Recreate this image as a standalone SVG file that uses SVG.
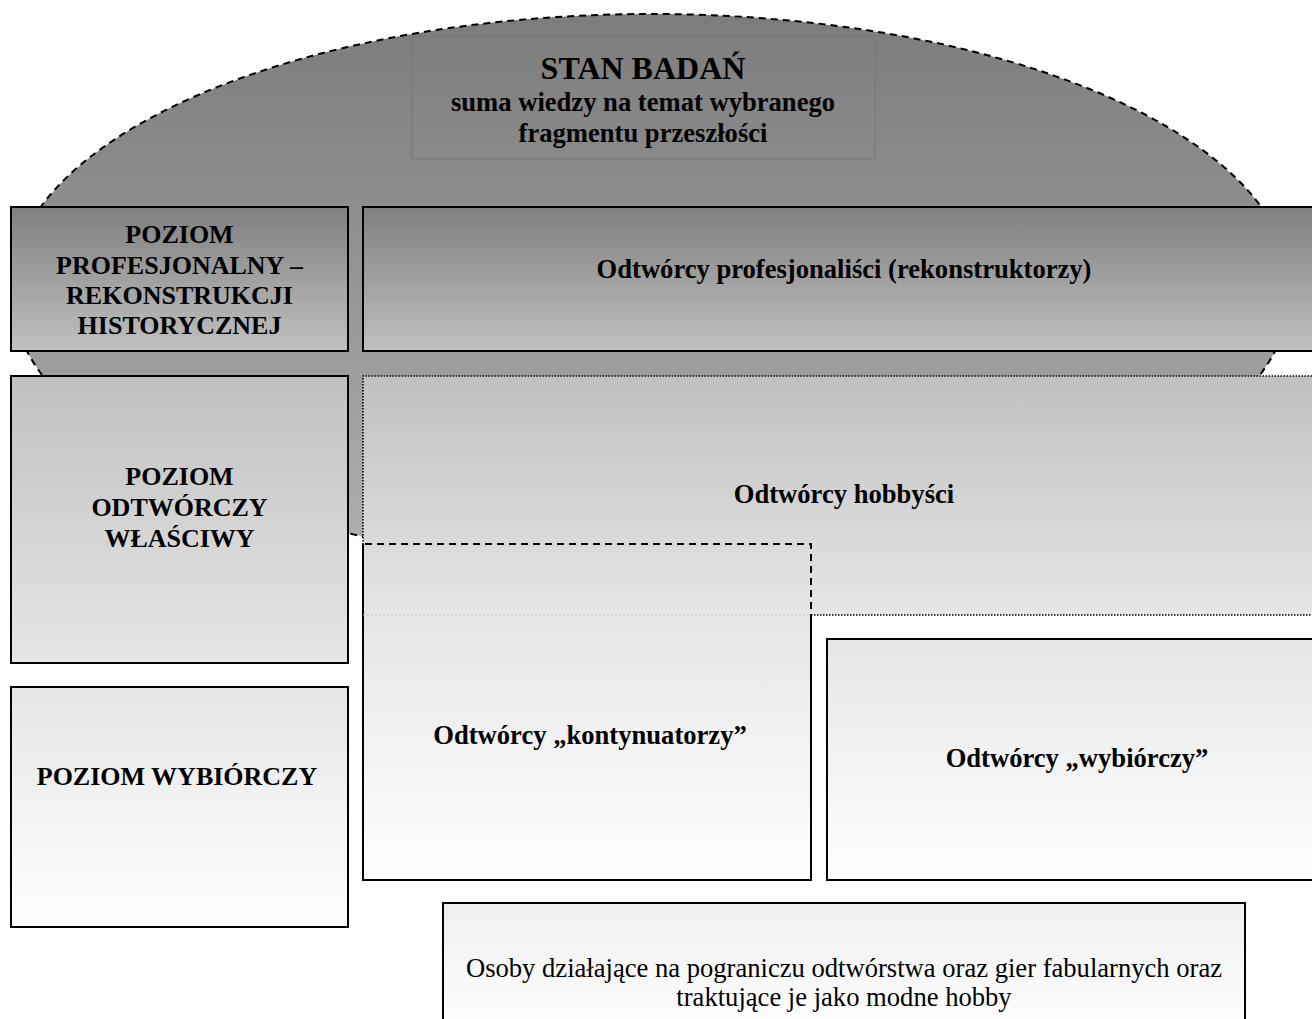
<svg xmlns="http://www.w3.org/2000/svg" width="1312" height="1019" viewBox="0 0 1312 1019">
<style>
.t{font-family:"Liberation Serif","Times New Roman",serif;text-anchor:middle;fill:#000}
.b{font-weight:bold;font-size:26.6px}
.l{font-weight:bold;font-size:26px}
.r{font-weight:normal;font-size:26.6px}
.box{stroke:#000;stroke-width:2}
.dot{fill:none;stroke:#000;stroke-width:1.5;stroke-dasharray:1.5 1.5}
.dash{fill:none;stroke:#000;stroke-width:2;stroke-dasharray:7 5}
.ell{fill:url(#gEll);stroke:#000;stroke-width:2;stroke-dasharray:7 5}
</style>
<defs>
<linearGradient id="gEll" x1="0" y1="0" x2="0" y2="1"><stop offset="0" stop-color="#7c7c7c"/><stop offset="1" stop-color="#b0b0b0"/></linearGradient>
<linearGradient id="gDark" x1="0" y1="0" x2="0" y2="1"><stop offset="0" stop-color="#808080"/><stop offset="1" stop-color="#c0c0c0"/></linearGradient>
<linearGradient id="gMid" x1="0" y1="0" x2="0" y2="1"><stop offset="0" stop-color="#c0c0c0"/><stop offset="1" stop-color="#e6e6e6"/></linearGradient>
<linearGradient id="gLight" x1="0" y1="0" x2="0" y2="1"><stop offset="0" stop-color="#e6e6e6"/><stop offset="1" stop-color="#ffffff"/></linearGradient>
<linearGradient id="gBot" x1="0" y1="0" x2="0" y2="1"><stop offset="0" stop-color="#efefef"/><stop offset="1" stop-color="#ffffff"/></linearGradient>
</defs>
<rect width="1312" height="1019" fill="#fff"/>

<g id="stan-badan">
<ellipse cx="651" cy="290" rx="640" ry="276" class="ell"/>
<rect x="412" y="36" width="463" height="123" fill="none" stroke="#777" stroke-width="1.5" stroke-opacity="0.6"/>
<text class="t" x="643" y="79" style="font-weight:bold;font-size:32px">STAN BADAŃ</text>
<text class="t b" x="643" y="111">suma wiedzy na temat wybranego</text>
<text class="t b" x="643" y="142">fragmentu przeszłości</text>
</g>

<g id="poziom-profesjonalny">
<rect x="11" y="207" width="337" height="144" fill="url(#gDark)" class="box"/>
<text class="t l" x="179.5" y="243">POZIOM</text>
<text class="t l" x="179.5" y="274">PROFESJONALNY –</text>
<text class="t l" x="179.5" y="304">REKONSTRUKCJI</text>
<text class="t l" x="179.5" y="334">HISTORYCZNEJ</text>
</g>

<g id="odtworcy-profesjonalisci">
<rect x="363" y="207" width="970" height="144" fill="url(#gDark)" class="box"/>
<text class="t b" x="844" y="278">Odtwórcy profesjonaliści (rekonstruktorzy)</text>
</g>

<g id="poziom-odtworczy">
<rect x="11" y="376" width="337" height="287" fill="url(#gMid)" class="box"/>
<text class="t l" x="179.5" y="485">POZIOM</text>
<text class="t l" x="179.5" y="516">ODTWÓRCZY</text>
<text class="t l" x="179.5" y="547">WŁAŚCIWY</text>
</g>

<g id="odtworcy-hobbysci">
<rect x="363" y="376" width="970" height="239" fill="url(#gMid)"/>
<path class="dot" d="M1330,376 H363 V615 M811,615 H1330"/>
<text class="t b" x="844" y="503">Odtwórcy hobbyści</text>
</g>

<g id="odtworcy-kontynuatorzy">
<rect x="363" y="615" width="448" height="265" fill="url(#gLight)"/>
<path class="box" fill="none" d="M811,615 V880 H363 V544"/>
<path class="dash" d="M365,544 H811 V615"/>
<path d="M363,615 H811" fill="none" stroke="#c4c4c4" stroke-width="1" stroke-dasharray="2 2"/>
<text class="t b" x="590" y="744">Odtwórcy „kontynuatorzy”</text>
</g>

<g id="odtworcy-wybiorczy">
<rect x="827" y="639" width="500" height="241" fill="url(#gLight)" class="box"/>
<text class="t b" x="1077" y="767">Odtwórcy „wybiórczy”</text>
</g>

<g id="poziom-wybiorczy">
<rect x="11" y="687" width="337" height="240" fill="url(#gLight)" class="box"/>
<text class="t l" x="177" y="785">POZIOM WYBIÓRCZY</text>
</g>

<g id="osoby-pogranicze">
<rect x="443" y="903" width="802" height="130" fill="url(#gBot)" class="box"/>
<text class="t r" x="844" y="977">Osoby działające na pograniczu odtwórstwa oraz gier fabularnych oraz</text>
<text class="t r" x="844" y="1006">traktujące je jako modne hobby</text>
</g>

<g id="connectors"></g>
</svg>
